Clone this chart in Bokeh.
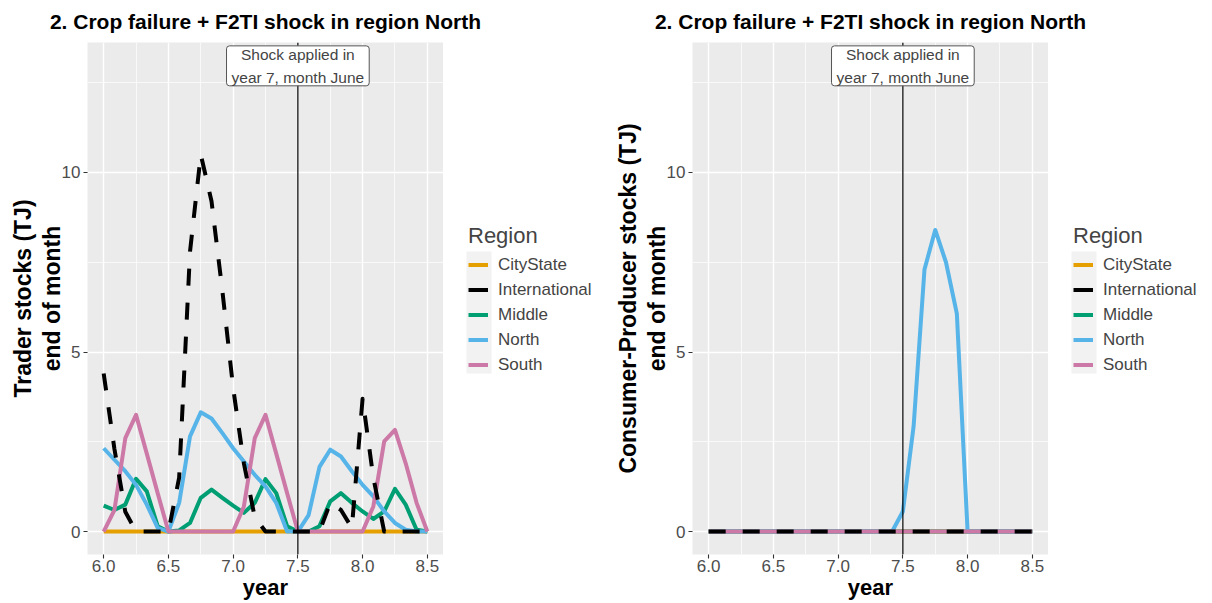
from bokeh.plotting import figure
from bokeh.layouts import row, column
from bokeh.models import (Range1d, FixedTicker, Span, Label, Legend, LegendItem,
                          PrintfTickFormatter, LinearAxis, BoxAnnotation)
from bokeh.embed import file_html
from bokeh.resources import INLINE

# ---------------- data ----------------
year = [6.000, 6.083, 6.167, 6.250, 6.333, 6.417, 6.500, 6.583, 6.667, 6.750, 6.833,
        6.917, 7.000, 7.083, 7.167, 7.250, 7.333, 7.417, 7.500, 7.583, 7.667, 7.750,
        7.833, 7.917, 8.000, 8.083, 8.167, 8.250, 8.333, 8.417, 8.500]

regions = ["CityState", "International", "Middle", "North", "South"]
region_colors = ["#E69F00", "#000000", "#009E73", "#56B4E9", "#CC79A7"]

trader_citystate = [0, 0, 0, 0, 0, 0, 0, 0, 0, 0, 0, 0, 0, 0, 0, 0, 0, 0, 0, 0, 0,
                    0, 0, 0, 0, 0, 0, 0, 0, 0, 0]
trader_international = [4.4, 2.3, 0.55, 0, 0, 0, 0, 1.5, 7.8, 10.5, 9.2, 6.7, 4.0, 1.9,
                        0.4, 0, 0, 0, 0, 0, 0, 0.8, 0.6, 0.1, 3.7, 1.5, 0, 0, 0, 0, 0]
trader_middle = [0.72, 0.6, 0.75, 1.47, 1.12, 0.15, 0, 0.03, 0.24, 0.94, 1.17, 0.94,
                 0.72, 0.52, 0.8, 1.46, 1.07, 0.15, 0, 0, 0.15, 0.84, 1.07, 0.8, 0.56,
                 0.35, 0.56, 1.19, 0.75, 0.05, 0]
trader_north = [2.32, 2.0, 1.68, 1.3, 0.75, 0.1, 0, 0.8, 2.65, 3.32, 3.15, 2.74, 2.32,
                1.95, 1.58, 1.26, 0.8, 0, 0, 0.46, 1.8, 2.28, 2.09, 1.68, 1.3, 0.98,
                0.56, 0.24, 0.05, 0, 0]
trader_south = [0, 0.6, 2.6, 3.25, 2.17, 1.07, 0, 0, 0, 0, 0, 0, 0, 0.7, 2.6, 3.25,
                2.17, 1.07, 0, 0, 0, 0, 0, 0, 0, 0.7, 2.51, 2.83, 1.9, 0.8, 0]

cp_citystate = [0, 0, 0, 0, 0, 0, 0, 0, 0, 0, 0, 0, 0, 0, 0, 0, 0, 0, 0, 0, 0,
                0, 0, 0, 0, 0, 0, 0, 0, 0, 0]
cp_international = [0, 0, 0, 0, 0, 0, 0, 0, 0, 0, 0, 0, 0, 0, 0, 0, 0, 0, 0, 0, 0,
                    0, 0, 0, 0, 0, 0, 0, 0, 0, 0]
cp_middle = [0, 0, 0, 0, 0, 0, 0, 0, 0, 0, 0, 0, 0, 0, 0, 0, 0, 0, 0, 0, 0,
             0, 0, 0, 0, 0, 0, 0, 0, 0, 0]
cp_north = [0, 0, 0, 0, 0, 0, 0, 0, 0, 0, 0, 0, 0, 0, 0, 0, 0, 0, 0.56, 2.93, 7.3,
            8.4, 7.5, 6.07, 0, 0, 0, 0, 0, 0, 0]
cp_south = [0, 0, 0, 0, 0, 0, 0, 0, 0, 0, 0, 0, 0, 0, 0, 0, 0, 0, 0, 0, 0,
            0, 0, 0, 0, 0, 0, 0, 0, 0, 0]

x_ticks = [6.0, 6.5, 7.0, 7.5, 8.0, 8.5]
x_minor = [6.25, 6.75, 7.25, 7.75, 8.25]
y_ticks = [0, 5, 10]
y_minor = [2.5, 7.5, 12.5]

title_text = "2. Crop failure + F2TI shock in region North"
shock_year = 7.5
shock_text = "Shock applied in\nyear 7, month June"

FONT = "Liberation Sans"
X0, X1 = 5.875, 8.625
Y0, Y1 = -0.639, 13.62
TITLE_H = 42
FIG_H = 560
LEFT, FRAME_W, FRAME_H = 87, 356, 513
LEG_W = 162
DRAW_ORDER = [0, 2, 3, 4, 1]


def style_axis_label(ax):
    ax.axis_label_text_font = FONT
    ax.axis_label_text_font_size = "23px"
    ax.axis_label_text_font_style = "bold"
    ax.axis_label_text_color = "black"


def add_lines(p, series, dashed=True):
    rends = {}
    for i in DRAW_ORDER:
        dash = "17 17" if (dashed and regions[i] == "International") else "solid"
        rends[i] = p.line(year, series[i], line_color=region_colors[i], line_width=4,
                          line_dash=dash, line_join="round", line_cap="butt")
    return rends


def make_panel(series, ylabel_outer, ylabel_inner):
    p = figure(width=LEFT + FRAME_W, height=FIG_H, x_range=Range1d(X0, X1),
               y_range=Range1d(Y0, Y1), output_backend="svg", toolbar_location=None,
               min_border_left=LEFT, min_border_right=0,
               min_border_top=0, min_border_bottom=FIG_H - FRAME_H,
               background_fill_color="#EBEBEB", border_fill_color="white",
               outline_line_color=None)

    p.xaxis.ticker = FixedTicker(ticks=x_ticks, minor_ticks=x_minor)
    p.yaxis.ticker = FixedTicker(ticks=y_ticks, minor_ticks=y_minor)
    p.xaxis.formatter = PrintfTickFormatter(format="%.1f")
    for ax in (p.xaxis[0], p.yaxis[0]):
        ax.axis_line_color = None
        ax.major_tick_line_color = "#333333"
        ax.major_tick_line_width = 1.1
        ax.major_tick_out = 4
        ax.major_tick_in = 0
        ax.minor_tick_out = 0
        ax.minor_tick_in = 0
        ax.major_label_text_font = FONT
        ax.major_label_text_font_size = "17px"
        ax.major_label_text_color = "#4D4D4D"
        style_axis_label(ax)
    p.xaxis.axis_label = "year"
    p.xaxis.axis_label_text_font_size = "22px"
    p.xaxis.major_label_standoff = 1
    p.xaxis.axis_label_standoff = 0
    p.yaxis.axis_label = ylabel_inner
    p.yaxis.major_label_standoff = 3
    p.yaxis.axis_label_standoff = -6

    outer = LinearAxis(ticker=FixedTicker(ticks=y_ticks), axis_label=ylabel_outer,
                       major_label_overrides={0: "", 5: "", 10: ""},
                       axis_line_color=None, major_tick_line_color=None,
                       major_tick_out=0, major_tick_in=0, minor_tick_out=0,
                       minor_tick_in=0, major_label_standoff=0, axis_label_standoff=0)
    style_axis_label(outer)
    p.add_layout(outer, "left")

    for g in (p.xgrid[0], p.ygrid[0]):
        g.grid_line_color = "white"
        g.grid_line_width = 1.4
        g.minor_grid_line_color = "white"
        g.minor_grid_line_width = 0.7

    add_lines(p, series)

    p.add_layout(Span(location=shock_year, dimension="height", line_color="black",
                      line_width=1.2))
    p.add_layout(Label(x=shock_year, y=12.97, text=shock_text, text_align="center",
                       text_baseline="middle", text_font=FONT, text_font_size="15.5px",
                       text_line_height=1.35, background_fill_color="white",
                       border_line_color="#555555", border_line_width=1,
                       padding=(5, 0), border_radius=3))
    return p


def make_legend(series):
    # narrow figure holding the legend; its ranges keep its own lines out of view
    q = figure(width=LEG_W, height=FIG_H, x_range=Range1d(0, 1), y_range=Range1d(0, 1),
               output_backend="svg", toolbar_location=None, x_axis_type=None,
               y_axis_type=None, min_border=0, outline_line_color=None,
               background_fill_color="white", border_fill_color="white")
    q.grid.visible = False
    q.add_layout(BoxAnnotation(left=23, right=48, bottom=181, top=303,
                               left_units="screen", right_units="screen",
                               bottom_units="screen", top_units="screen",
                               fill_color="#F2F2F2", fill_alpha=1, line_color=None))
    rends = add_lines(q, series, dashed=False)
    items = [LegendItem(label=name, renderers=[rends[i]]) for i, name in enumerate(regions)]
    legend = Legend(items=items, location=(25, 177), title="Region",
                    title_text_font=FONT, title_text_font_size="22px",
                    title_text_font_style="normal", title_standoff=3,
                    label_text_font=FONT, label_text_font_size="17px",
                    label_standoff=10, glyph_width=20, glyph_height=25,
                    label_height=25, spacing=0, padding=0, margin=0,
                    background_fill_alpha=0, border_line_alpha=0)
    q.add_layout(legend)
    return q


def make_title_strip():
    t = figure(width=2 * (LEFT + FRAME_W + LEG_W), height=TITLE_H,
               x_range=Range1d(0, 1), y_range=Range1d(0, 1), output_backend="svg",
               toolbar_location=None, x_axis_type=None, y_axis_type=None, min_border=0,
               outline_line_color=None, background_fill_color="white",
               border_fill_color="white")
    t.grid.visible = False
    for k in range(2):
        cx = k * (LEFT + FRAME_W + LEG_W) + LEFT + FRAME_W / 2
        t.add_layout(Label(x=cx, y=21, x_units="screen", y_units="screen",
                           text=title_text, text_align="center",
                           text_baseline="alphabetic", text_font=FONT,
                           text_font_size="21px", text_font_style="bold",
                           text_color="black"))
    return t


trader = [trader_citystate, trader_international, trader_middle, trader_north, trader_south]
cp = [cp_citystate, cp_international, cp_middle, cp_north, cp_south]

p1 = make_panel(trader, "Trader stocks (TJ)", "end of month")
l1 = make_legend(trader)
p2 = make_panel(cp, "Consumer-Producer stocks (TJ)", "end of month")
l2 = make_legend(cp)

layout = column(make_title_strip(), row(p1, l1, p2, l2))
open("out.html", "w").write(file_html(layout, INLINE))
